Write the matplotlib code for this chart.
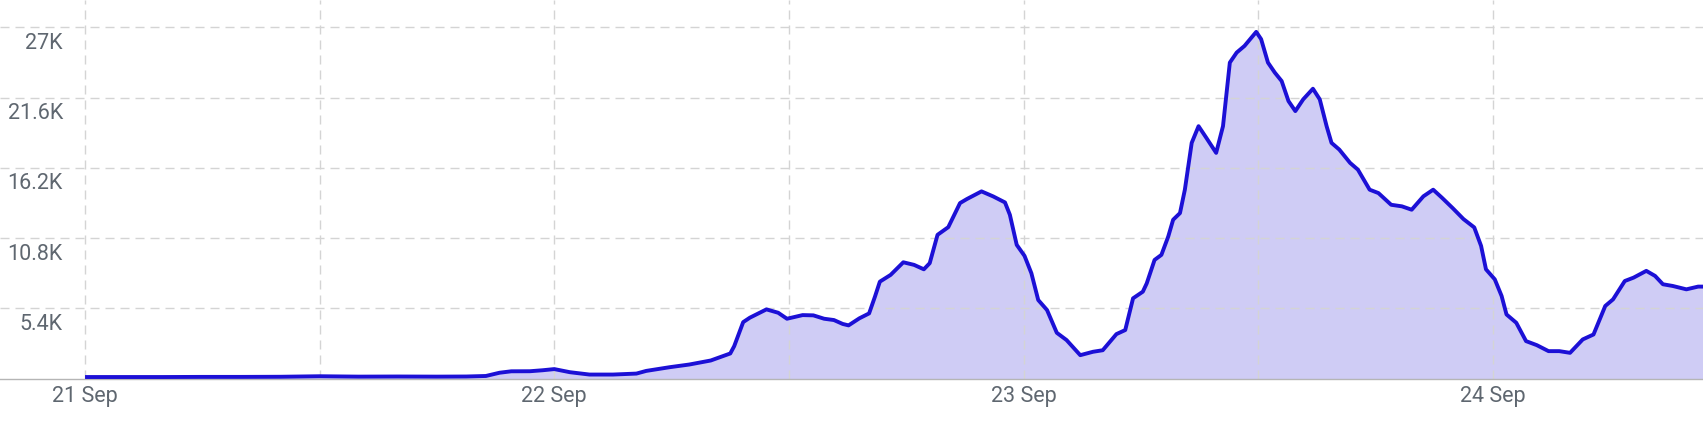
import matplotlib
matplotlib.use("Agg")
import matplotlib.pyplot as plt
from matplotlib.transforms import offset_copy

plt.rcParams['font.family'] = ['Roboto', 'DejaVu Sans']
plt.rcParams['lines.scale_dashes'] = False

# hours since 21 Sep 00:00
hours = [0, 2, 4, 6, 8, 10, 12, 14, 16, 18, 19.5, 20.5, 21.2, 21.8, 22.75, 23.4, 24.0,
         24.8, 25.8, 27.0, 28.2, 28.7, 29.9, 30.9, 32.0, 33.0, 33.2, 33.66, 34.0, 34.85,
         35.45, 35.9, 36.7, 37.25, 37.8, 38.3, 38.75, 39.05, 39.6, 40.1, 40.4, 40.65,
         41.2, 41.85, 42.4, 42.9, 43.2, 43.6, 44.15, 44.75, 45.1, 45.85, 46.45, 47.05,
         47.3, 47.65, 48.05, 48.4, 48.75, 49.2, 49.7, 50.2, 50.9, 51.55, 52.05, 52.75,
         53.2, 53.6, 54.1, 54.3, 54.7, 55.05, 55.4, 55.65, 56.0, 56.25, 56.6, 56.95,
         57.35, 57.85, 58.2, 58.55, 58.9, 59.3, 59.9, 60.15, 60.5, 60.85, 61.2, 61.55,
         61.9, 62.3, 62.8, 63.15, 63.5, 63.75, 64.15, 64.7, 65.1, 65.7, 66.15, 66.8,
         67.35, 67.85, 68.45, 68.95, 69.4, 69.95, 70.5, 71.05, 71.4, 71.65, 72.1, 72.45,
         72.7, 73.2, 73.7, 74.25, 74.85, 75.4, 75.95, 76.6, 77.15, 77.75, 78.15, 78.75,
         79.2, 79.85, 80.3, 80.7, 81.2, 81.9, 82.5, 82.75]
values = [120, 120, 120, 130, 130, 140, 180, 150, 160, 150, 160, 200, 450, 560, 565, 640, 730,
          490, 310, 310, 385, 590, 875, 1080, 1390, 1930, 2490, 4340, 4680, 5320,
          5060, 4600, 4880, 4860, 4600, 4500, 4200, 4090, 4630, 5010, 6300, 7450,
          7970, 8940, 8740, 8400, 8870, 11050, 11640, 13490, 13800, 14390, 14000, 13540,
          12590, 10280, 9430, 8100, 6040, 5270, 3520, 2960, 1800, 2060, 2180, 3420,
          3730, 6170, 6680, 7320, 9120, 9510, 10920, 12210, 12720, 14520, 18120, 19400,
          18500, 17350, 19400, 24290, 25060, 25570, 26650, 26090, 24290, 23520, 22870, 21330,
          20560, 21460, 22280, 21460, 19400, 18120, 17600, 16580, 16060, 14520, 14260, 13360,
          13240, 12980, 14010, 14520, 13900, 13100, 12260, 11620, 10200, 8400, 7630, 6350,
          4930, 4290, 2880, 2570, 2110, 2110, 1980, 3010, 3390, 5580, 6090, 7500,
          7760, 8280, 7890, 7250, 7120, 6860, 7070, 7070]

x_tick_hours = [0, 24, 48, 72]
x_tick_labels = ['21 Sep', '22 Sep', '23 Sep', '24 Sep']
x_minor_hours = [12, 36, 60]
y_ticks = [5400, 10800, 16200, 21600, 27000]
y_tick_labels = ['5.4K', '10.8K', '16.2K', '21.6K', '27K']

LINE = '#1c10d6'
FILL = '#cfccf5'
GRID = '#d4d4d4'
TEXT = '#5f6770'

fig = plt.figure(figsize=(17.03, 4.23), dpi=100)
ax = fig.add_axes([0, 0.105, 1, 0.895])

ax.fill_between(hours, values, 0, color=FILL, lw=0, zorder=1)
ax.plot(hours, values, color=LINE, lw=2.8, solid_joinstyle='round', solid_capstyle='butt', zorder=3)

ax.set_xlim(-4.35, 82.75)
ax.set_ylim(0, 29100)

ax.set_xticks(x_tick_hours)
ax.set_xticklabels(x_tick_labels)
ax.set_xticks(x_minor_hours, minor=True)
ax.set_yticks(y_ticks)
ax.set_yticklabels([])
ax.tick_params(axis='both', which='both', length=0)
ax.tick_params(axis='x', labelsize=15.5, labelcolor=TEXT, pad=5)
ax.grid(True, which='both', color=GRID, lw=1.0, linestyle=(0, (6.5, 4.3)), zorder=0)

for s in ['top', 'right', 'left']:
    ax.spines[s].set_visible(False)
ax.spines['bottom'].set_color('#b5b5b5')
ax.spines['bottom'].set_linewidth(1.0)
ax.spines['bottom'].set_zorder(2)

trans = offset_copy(ax.get_yaxis_transform(), fig=fig, x=0, y=-11.5, units='points')
for v, lab in zip(y_ticks, y_tick_labels):
    ax.text(63 / 1703, v, lab, transform=trans, ha='right', va='center',
            fontsize=15.5, color=TEXT, zorder=4)

fig.savefig('out.png', dpi=100)
